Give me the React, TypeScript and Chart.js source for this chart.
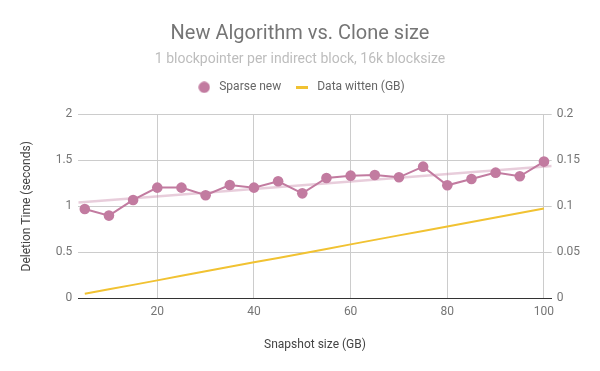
import React, { useEffect, useRef } from "react";
import { Chart, registerables } from "chart.js";

Chart.register(...registerables);

const snapshotSizes = [5, 10, 15, 20, 25, 30, 35, 40, 45, 50, 55, 60, 65, 70, 75, 80, 85, 90, 95, 100];
const sparseNew = [0.971, 0.899, 1.069, 1.203, 1.203, 1.12, 1.232, 1.203, 1.272, 1.141, 1.308, 1.333, 1.341, 1.315, 1.431, 1.228, 1.297, 1.366, 1.326, 1.486];
const dataWritten = [0.0049, 0.0098, 0.0146, 0.0195, 0.0244, 0.0293, 0.0342, 0.0391, 0.0439, 0.0488, 0.0537, 0.0586, 0.0635, 0.0684, 0.0732, 0.0781, 0.083, 0.0879, 0.0928, 0.0977];
const trendX = [3.66, 101.6];
const trendY = [1.04, 1.438];
const xTickValues = [20, 40, 60, 80, 100];
const seriesNames = ["Sparse new", "Data witten (GB)"];

const PINK = "#c27ba0";
const YELLOW = "#f1c232";
const CHART_TOP = 114.3;

function makeCircle(): HTMLCanvasElement {
  const c = document.createElement("canvas");
  c.width = 12;
  c.height = 12;
  const g = c.getContext("2d")!;
  g.fillStyle = PINK;
  g.beginPath();
  g.arc(6, 6, 5.7, 0, Math.PI * 2);
  g.fill();
  return c;
}
function makeLine(): HTMLCanvasElement {
  const c = document.createElement("canvas");
  c.width = 12;
  c.height = 3;
  const g = c.getContext("2d")!;
  g.fillStyle = YELLOW;
  g.fillRect(0, 0, 12, 3);
  return c;
}

const fmt = (v: any) => String(+Number(v).toFixed(2));

const legendStretch = {
  id: "legendStretch",
  afterInit(chart: any) {
    const lg = chart.legend;
    if (!lg || lg.__patched) return;
    const orig = lg.fit.bind(lg);
    lg.__extra = 0;
    lg.fit = function () {
      orig();
      this.height += this.__extra;
    };
    lg.__patched = true;
  },
};

export default function App() {
  const ref = useRef<HTMLCanvasElement>(null);
  useEffect(() => {
    if (!ref.current) return;
    Chart.defaults.font.family = "Roboto";
    const circle = makeCircle();
    const line = makeLine();
    const chart = new Chart(ref.current, {
      type: "line",
      plugins: [legendStretch],
      data: {
        datasets: [
          {
            label: seriesNames[0],
            data: snapshotSizes.map((x, i) => ({ x, y: sparseNew[i] })),
            borderColor: PINK,
            backgroundColor: PINK,
            borderWidth: 2,
            pointRadius: 5.3,
            pointBorderWidth: 0,
            yAxisID: "y",
            order: 1,
          },
          {
            label: seriesNames[1],
            data: snapshotSizes.map((x, i) => ({ x, y: dataWritten[i] })),
            borderColor: YELLOW,
            backgroundColor: YELLOW,
            borderWidth: 2,
            pointRadius: 0,
            yAxisID: "y1",
            order: 2,
          },
          {
            label: "trend",
            data: trendX.map((x, i) => ({ x, y: trendY[i] })),
            borderColor: "rgba(194,123,160,0.38)",
            borderWidth: 2.5,
            pointRadius: 0,
            yAxisID: "y",
            order: 3,
          },
        ],
      },
      options: {
        responsive: false,
        animation: false,
        layout: { padding: 0 },
        plugins: {
          title: {
            display: true,
            text: "New Algorithm vs. Clone size",
            color: "#757575",
            font: { size: 20, weight: "normal" },
            padding: { top: 22, bottom: 5.5 },
          },
          subtitle: {
            display: true,
            text: "1 blockpointer per indirect block, 16k blocksize",
            color: "#bdbdbd",
            font: { size: 14, weight: "normal" },
            padding: { top: 0, bottom: 1.0 },
          },
          legend: {
            display: true,
            position: "top",
            labels: {
              usePointStyle: true,
              pointStyleWidth: 18,
              padding: 12,
              color: "#666",
              font: { size: 12 },
              generateLabels: () => [
                { text: seriesNames[0], pointStyle: circle, fillStyle: PINK, strokeStyle: PINK, lineWidth: 0, datasetIndex: 0, hidden: false, fontColor: "#666" },
                { text: seriesNames[1], pointStyle: line, fillStyle: YELLOW, strokeStyle: YELLOW, lineWidth: 0, datasetIndex: 1, hidden: false, fontColor: "#666" },
              ] as any,
            },
          },
          tooltip: { enabled: false },
        },
        scales: {
          x: {
            type: "linear",
            min: 3.66,
            max: 101.6,
            afterBuildTicks: (s: any) => {
              s.ticks = xTickValues.map((v) => ({ value: v }));
            },
            afterFit: (s: any) => {
              s.height = 72.7;
            },
            grid: { color: "#cccccc", drawTicks: false },
            border: { display: true, color: "#333333" },
            ticks: { color: "#757575", font: { size: 12 }, padding: 6, maxRotation: 0, autoSkip: false, callback: fmt },
            title: { display: true, text: "Snapshot size (GB)", color: "#444", font: { size: 12 }, padding: { top: 0, bottom: 19.3 } },
          },
          y: {
            position: "left",
            min: 0,
            max: 2,
            afterFit: (s: any) => {
              s.width = 78.3;
            },
            ticks: { stepSize: 0.5, color: "#757575", font: { size: 12 }, padding: 6, callback: fmt },
            grid: { color: (c: any) => (c.tick && c.tick.value === 0 ? "#333333" : "#cccccc"), drawTicks: false },
            border: { display: false },
            title: { display: true, text: "Deletion Time (seconds)", color: "#444", font: { size: 12 }, padding: { top: 20, bottom: 0 } },
          },
          y1: {
            position: "right",
            min: 0,
            max: 0.2,
            afterFit: (s: any) => {
              s.width = 48.3;
            },
            ticks: { stepSize: 0.05, color: "#757575", font: { size: 12 }, padding: 5, callback: fmt },
            grid: { display: false, drawTicks: false },
            border: { display: false },
          },
        },
      } as any,
    });
    const lg: any = (chart as any).legend;
    if (lg && chart.chartArea) {
      lg.__extra = CHART_TOP - chart.chartArea.top;
      chart.update();
    }
    return () => chart.destroy();
  }, []);
  return (
    <div style={{ position: "absolute", left: 0, top: 0, width: 600, height: 371, background: "#fff" }}>
      <canvas ref={ref} width={600} height={371} style={{ width: 600, height: 371, display: "block" }} />
    </div>
  );
}
